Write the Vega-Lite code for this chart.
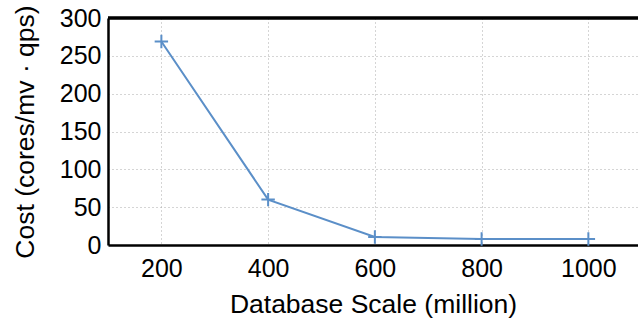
{
  "$schema": "https://vega.github.io/schema/vega-lite/v6.json",
  "autosize": "none",
  "padding": {"left": 108, "top": 18, "right": 0, "bottom": 77},
  "width": 530,
  "height": 227,
  "config": {
    "view": {"stroke": null},
    "font": "Liberation Sans",
    "axis": {"labelFont": "Liberation Sans", "titleFont": "Liberation Sans", "labelColor": "#000", "titleColor": "#000", "titleFontWeight": "normal", "labelOverlap": false}
  },
  "data": {"values": [
    {"scale": 200, "cost": 269},
    {"scale": 400, "cost": 60},
    {"scale": 600, "cost": 10.5},
    {"scale": 800, "cost": 8},
    {"scale": 1000, "cost": 8}
  ]},
  "encoding": {
    "x": {"field": "scale", "type": "quantitative", "scale": {"domain": [100, 1093], "nice": false, "zero": false},
      "axis": {"values": [200, 400, 600, 800, 1000], "format": "d", "title": "Database Scale (million)", "labelFontSize": 25, "titleFontSize": 26.5, "labelPadding": 11, "titlePadding": 10, "ticks": false, "domainColor": "#000", "domainWidth": 2.5, "grid": true, "gridColor": "#aaa", "gridDash": [1, 3], "gridWidth": 1, "labelFlush": false, "labelOverlap": false}},
    "y": {"field": "cost", "type": "quantitative", "scale": {"domain": [0, 300], "nice": false},
      "axis": {"values": [0, 50, 100, 150, 200, 250, 300], "title": "Cost (cores/mv · qps)", "labelFontSize": 25, "titleFontSize": 26.5, "labelPadding": 7, "titlePadding": 20, "ticks": false, "domainColor": "#000", "domainWidth": 2.5, "grid": true, "gridColor": "#aaa", "gridDash": [1, 3], "gridWidth": 1, "labelFlush": false, "labelOverlap": false}}
  },
  "layer": [
    {
      "mark": {"type": "line", "color": "#5b8fc8", "strokeWidth": 2, "point": {"shape": "M-1,0H1M0,-1V1", "size": 180, "filled": false, "color": "#5b8fc8", "strokeWidth": 2}}
    },
    {
      "mark": {"type": "rule", "color": "#000", "strokeWidth": 2.5},
      "encoding": {"x": {"value": 0}, "x2": {"value": 530}, "y": {"datum": 300, "type": "quantitative"}}
    }
  ]
}
